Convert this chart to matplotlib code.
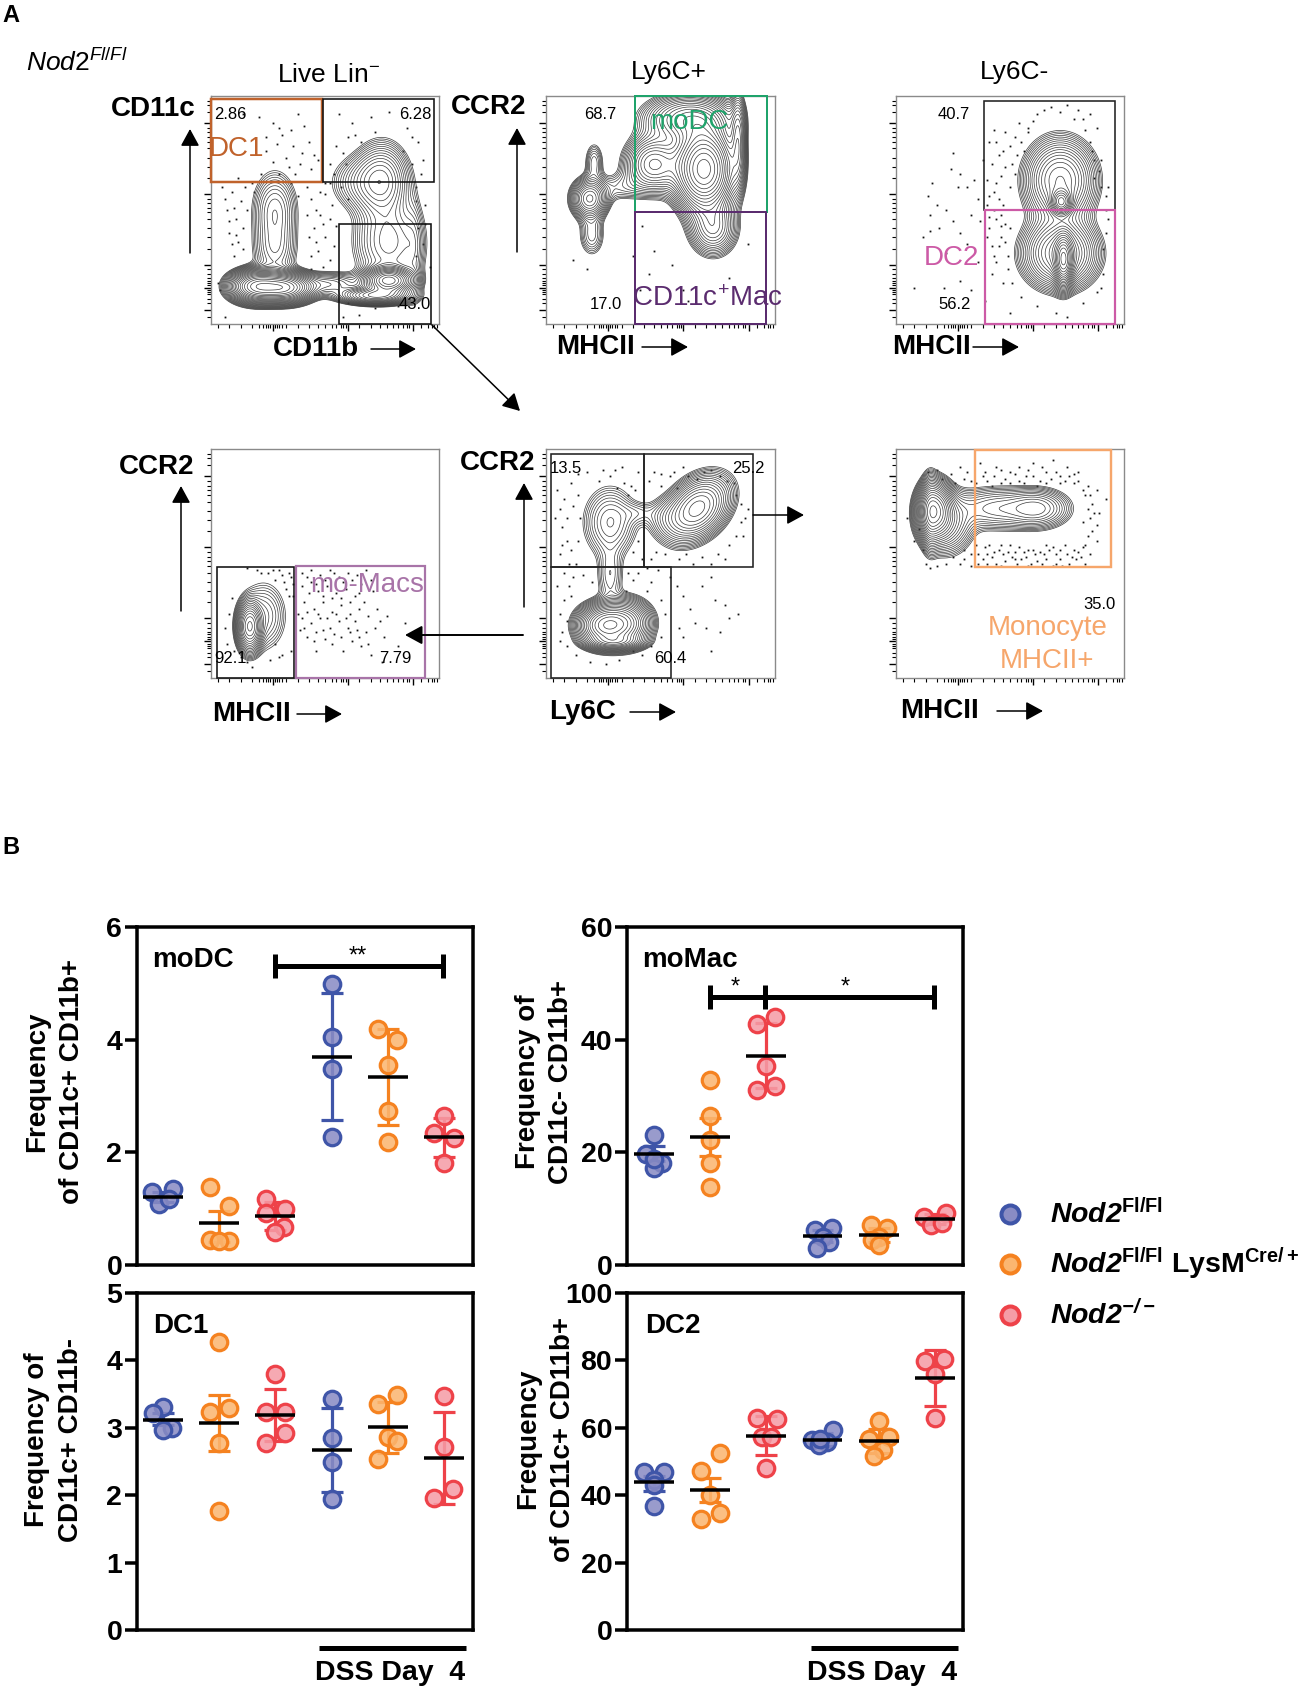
import numpy as np
import matplotlib
matplotlib.use('Agg')
import matplotlib.pyplot as plt
from matplotlib.patches import Rectangle

plt.rcParams['font.family'] = ['Liberation Sans', 'DejaVu Sans']
plt.rcParams['mathtext.fontset'] = 'custom'
plt.rcParams['mathtext.rm'] = 'Liberation Sans'
plt.rcParams['mathtext.it'] = 'Liberation Sans:italic'
plt.rcParams['mathtext.bf'] = 'Liberation Sans:bold'
plt.rcParams['mathtext.bfit'] = 'Liberation Sans:italic:bold'

W, H = 1300, 1691
PX = 0.72  # points per pixel at dpi 100

# ---------------- Panel B data ----------------
GROUP_COLORS = ['#3F55A8', '#F58220', '#EE4249', '#3F55A8', '#F58220', '#EE4249']
GROUP_FACES = ['#8A8CC4', '#FBB670', '#F59CA6', '#8A8CC4', '#FBB670', '#F59CA6']

MODC_VALUES = [[1.30, 1.345, 1.08, 1.18], [1.39, 1.04, 0.44, 0.43, 0.43], [1.17, 0.99, 0.92, 0.67, 0.58],
               [4.98, 4.05, 3.48, 2.28], [4.19, 4.00, 3.55, 2.74, 2.19], [2.64, 2.35, 2.26, 1.81]]
MODC_OFFSETS = [[-0.19, 0.18, -0.07, 0.11], [-0.17, 0.17, -0.17, 0.17, 0], [-0.17, 0.17, -0.17, 0.16, 0],
                [0, 0, 0, 0], [-0.17, 0.17, 0, 0, 0], [0, -0.17, 0.17, 0]]
MODC_MEANS = [1.21, 0.75, 0.87, 3.70, 3.34, 2.27]
MODC_UPPER = [1.30, 0.95, 1.11, 4.82, 4.19, 2.61]
MODC_LOWER = [1.12, 0.40, 0.63, 2.57, 2.49, 1.91]

MOMAC_VALUES = [[23.1, 19.7, 18.1, 17.2, 18.9], [32.9, 26.4, 22.2, 18.1, 13.9], [44.0, 42.8, 35.4, 31.7, 31.1],
                [6.2, 6.5, 5.0, 4.1, 3.1], [7.1, 6.5, 5.0, 4.4, 3.6], [8.6, 9.3, 7.1, 7.4]]
MOMAC_OFFSETS = [[0, -0.15, 0.15, 0, 0], [0, 0, 0, 0, 0], [0.16, -0.16, 0, 0.16, -0.16],
                 [-0.14, 0.17, 0, 0.11, -0.09], [-0.14, 0.15, 0, -0.12, 0], [-0.19, 0.2, -0.07, 0.13]]
MOMAC_MEANS = [19.7, 22.7, 37.1, 5.15, 5.3, 8.1]
MOMAC_UPPER = [21.1, 26.1, 42.9, 6.3, 6.5, 9.0]
MOMAC_LOWER = [18.4, 19.4, 31.4, 4.0, 4.1, 7.2]

DC1_VALUES = [[3.31, 3.22, 2.99, 2.96], [4.27, 3.30, 3.23, 2.77, 1.76], [3.80, 3.23, 3.23, 2.93, 2.77],
              [3.42, 2.85, 2.50, 1.94], [3.48, 3.36, 2.86, 2.80, 2.54], [3.47, 2.71, 2.09, 1.96]]
DC1_OFFSETS = [[0, -0.17, 0.16, 0], [0, 0.17, -0.17, 0, 0], [0, -0.17, 0.17, 0.17, -0.17],
               [0, 0, 0, 0], [0.17, -0.17, 0, 0.17, -0.17], [0, 0, 0.16, -0.17]]
DC1_MEANS = [3.12, 3.07, 3.19, 2.67, 3.01, 2.55]
DC1_UPPER = [3.22, 3.48, 3.58, 3.29, 3.39, 3.24]
DC1_LOWER = [3.04, 2.66, 2.80, 2.05, 2.62, 1.87]

DC2_VALUES = [[47.0, 47.0, 44.6, 43.0, 36.9], [52.5, 47.2, 40.1, 34.7, 33.0], [62.9, 62.6, 57.2, 57.2, 48.2],
              [59.4, 56.4, 55.7, 54.8, 56.6], [61.9, 57.4, 56.6, 53.5, 51.7], [79.9, 80.5, 75.9, 62.9]]
DC2_OFFSETS = [[-0.17, 0.17, 0, 0, 0], [0.17, -0.17, 0, 0.17, -0.17], [-0.17, 0.19, -0.08, 0.09, 0],
               [0.18, -0.18, 0.08, -0.07, -0.04], [0, 0.18, -0.18, 0.08, -0.08], [-0.17, 0.17, 0, 0]]
DC2_MEANS = [43.8, 41.6, 57.7, 56.5, 56.0, 74.9]
DC2_UPPER = [45.7, 45.2, 63.6, 58.5, 59.5, 83.2]
DC2_LOWER = [41.3, 37.9, 51.9, 54.5, 52.5, 66.5]

MODC_TICKS = [0, 2, 4, 6]
MOMAC_TICKS = [0, 20, 40, 60]
DC1_TICKS = [0, 1, 2, 3, 4, 5]
DC2_TICKS = [0, 20, 40, 60, 80, 100]

LEGEND_LABELS = [r'$\mathbfit{Nod2}^{\mathbf{Fl/Fl}}$',
                 r'$\mathbfit{Nod2}^{\mathbf{Fl/Fl}}\ \mathbf{LysM}^{\mathbf{Cre/+}}$',
                 r'$\mathbfit{Nod2}^{\mathbfit{-/-}}$']

# ---------------- Panel A data (panel units 0-100) ----------------
# density blobs: x, y, sx, sy, weight, rotation in degrees
P1_BLOBS = [(20, 16.5, 6, 3.6, 1.0, 0), (32, 16, 6.5, 3.4, 1.0, 0), (28, 50, 5.5, 9.5, .12, 0), (28, 32, 5.5, 8, .09, 0),
            (52, 17.5, 8, 3, .12, 0), (78, 19, 5.5, 3, .9, 0), (72, 12.5, 8, 2, .5, 0), (78, 36, 8.5, 11, .14, 0),
            (75, 63, 6.5, 9, .2, 0), (66, 62, 8, 7, .08, 0), (89, 30, 2.5, 15, .04, 0)]
P2_BLOBS = [(19, 55, 4.5, 5, .35, 0), (21, 71, 2.6, 5.5, .09, 0), (20, 39, 3.6, 6, .09, 0), (33, 60, 7, 4, .06, 0),
            (69, 68, 7, 10, 1.0, 0), (47, 70, 7, 7, .35, 0), (73, 42, 6, 7, .22, 0), (84, 80, 2, 12, .2, 0), (62, 90, 11, 6, .3, 0)]
P3_BLOBS = [(72.5, 53.5, 2.5, 3, .8, 0), (73.5, 28, 2.2, 6, 1.0, 0), (72, 63, 8.5, 10, .5, 0), (72, 31, 9, 8.5, .55, 0)]
P4_BLOBS = [(17, 22.5, 2.5, 5, 1.0, 0), (23, 27, 5, 7.5, .08, 0)]
P5_BLOBS = [(26, 23, 5.5, 4.3, .8, 0), (34, 24, 5.5, 4.8, .45, 0), (30, 16, 6, 1.8, .3, 0), (66, 74, 8, 5.5, .35, 45),
            (53, 70, 5, 5, .04, 0), (28, 68, 6, 8, .07, 0), (28, 45, 3.3, 8, .035, 0), (40, 72, 5, 3, .02, 0)]
P6_BLOBS = [(17, 73, 3.8, 6, 1.0, 0), (22, 68, 6, 7, .2, 0), (15, 72, 2, 8, .25, 0), (62, 74, 7.5, 4.5, .16, 0), (44, 74, 11, 5, .12, 0)]

P1_DOTS = [(14, 92), (21, 91), (27, 88), (38, 92), (31, 83), (35, 85), (41, 87), (24, 82), (29, 79), (36, 78), (43, 80), (47, 72),
           (27, 71), (33, 73), (39, 70), (44, 68), (22, 66), (12, 64), (18, 62), (9, 58), (13, 54), (7, 50), (11, 46), (8, 40), (12, 36),
           (10, 30), (14, 33), (6, 55), (4, 15), (3, 18), (42, 60), (44, 55), (50, 57), (53, 52), (57, 60), (60, 55), (48, 48),
           (45, 42), (50, 38), (54, 34), (47, 32), (52, 28), (44, 30), (56, 92), (62, 88), (70, 91), (78, 93), (86, 86), (91, 80),
           (93, 72), (55, 78), (60, 82), (66, 80), (88, 70), (90, 60), (94, 52), (93, 35), (96, 25), (60, 9), (65, 4), (72, 7), (82, 8),
           (58, 3), (6, 3), (90, 30), (91, 42), (52, 70), (35, 62), (38, 56), (16, 50), (30, 86), (24, 76), (34, 69), (40, 75), (45, 74),
           (37, 66), (30, 66), (19, 58), (15, 60), (10, 51), (14, 42), (9, 35), (11, 39), (8, 45), (5, 60), (42, 48), (46, 50), (49, 44),
           (52, 46), (55, 43), (46, 36), (43, 38), (49, 25), (44, 24), (50, 62), (48, 58), (52, 62), (54, 66), (59, 70), (58, 75), (63, 83),
           (72, 84), (84, 76), (88, 82), (92, 66), (90, 54), (94, 44)]
P2_DOTS = [(12, 28), (18, 24), (42, 43), (47, 32), (45, 22), (41, 15), (60, 15), (62, 10), (80, 20), (88, 35), (55, 26), (38, 30)]
P3_DOTS = [(25, 75), (24, 68), (27, 60), (28, 66), (31, 60), (34, 63), (36, 55), (38, 72), (41, 80), (43, 85), (48, 84), (50, 78), (45, 74),
           (42, 70), (48, 69), (53, 74), (55, 80), (60, 89), (68, 95), (75, 96), (80, 94), (85, 92), (88, 86), (85, 80), (87, 72),
           (89, 67), (90, 60), (92, 56), (44, 62), (50, 60), (41, 56), (45, 55), (47, 52), (16, 62), (14, 56), (18, 52), (15, 48),
           (22, 50), (25, 45), (19, 42), (28, 40), (33, 48), (37, 45), (41, 42), (44, 46), (48, 44), (42, 34), (46, 38), (49, 30), (44, 27),
           (49, 24), (51, 18), (47, 18), (42, 22), (55, 12), (62, 8), (70, 5), (75, 3), (82, 9), (88, 14), (91, 22), (91, 33),
           (92, 40), (90, 16), (8, 16), (21, 16), (28, 19), (33, 15), (22, 31), (31, 35), (36, 27), (39, 10), (50, 5), (12, 38), (15, 41),
           (65, 94), (58, 84), (54, 88), (78, 90), (83, 85), (44, 80), (47, 76), (51, 70), (46, 65), (40, 63), (43, 58), (40, 52), (43, 50),
           (46, 48), (41, 47), (40, 38), (43, 30), (45, 34), (48, 36), (50, 42), (46, 43), (58, 86), (62, 92), (72, 93), (82, 90), (86, 76),
           (90, 72), (87, 64), (93, 60), (92, 50), (93, 46), (52, 82), (56, 76), (52, 66)]
P4_DOTS = [(16, 48), (20, 47), (25, 46), (30, 47), (34, 46), (28, 43), (32, 42), (35, 44), (33, 39), (36, 36), (9, 35), (8, 28), (6, 22),
           (7, 15), (10, 12), (35, 12), (31, 10), (26, 8), (18, 5), (16, 7), (28, 15), (40, 46), (44, 47), (48, 45), (52, 47), (56, 44),
           (60, 46), (64, 45), (68, 47), (40, 40), (44, 42), (47, 38), (51, 40), (55, 37), (59, 39), (63, 36), (67, 33), (71, 38), (41, 33),
           (45, 30), (49, 33), (53, 29), (57, 32), (61, 28), (65, 30), (69, 27), (73, 30), (77, 27), (40, 26), (44, 24), (48, 26), (52, 22), (56, 25),
           (60, 22), (64, 21), (68, 20), (72, 22), (42, 18), (46, 20), (50, 17), (54, 19), (62, 16), (66, 14), (76, 18), (70, 10), (58, 12), (82, 14),
           (46, 12), (75, 7), (85, 24), (39, 21), (38, 28), (42, 44), (46, 41), (50, 43), (54, 46), (58, 42), (62, 43), (66, 41), (70, 43), (43, 37),
           (49, 36), (53, 35), (57, 35), (61, 33), (65, 37), (42, 29), (47, 28), (51, 26), (55, 28), (59, 26), (63, 25), (41, 22), (45, 16), (49, 21),
           (53, 15), (57, 18), (61, 20), (65, 18), (69, 15), (74, 25), (31, 45), (27, 47), (22, 46), (36, 41), (34, 36), (30, 9), (13, 9)]
P5_DOTS = [(5, 82), (8, 78), (11, 85), (14, 89), (18, 90), (23, 86), (28, 88), (33, 92), (37, 84), (40, 90), (31, 83), (36, 80), (4, 70),
           (7, 66), (9, 60), (11, 56), (6, 54), (13, 50), (47, 90), (54, 88), (60, 92), (66, 87), (72, 91), (79, 86), (83, 80), (88, 74), (85, 68),
           (80, 58), (78, 52), (72, 50), (64, 50), (58, 52), (48, 55), (86, 62), (50, 84), (57, 83), (12, 44), (10, 40), (8, 34), (6, 28), (7, 20),
           (9, 14), (13, 10), (19, 7), (26, 6), (32, 8), (38, 12), (42, 10), (46, 14), (50, 18), (52, 28), (50, 34), (46, 42), (44, 38),
           (54, 44), (57, 40), (60, 36), (63, 30), (65, 24), (68, 40), (72, 44), (74, 34), (78, 32), (80, 26), (70, 22), (58, 22), (76, 20),
           (84, 28), (60, 18), (72, 12), (16, 45), (20, 42), (38, 43), (36, 46), (35, 38), (14, 60), (15, 70), (40, 60), (38, 55), (42, 52),
           (6, 74), (9, 70), (12, 75), (14, 80), (7, 58), (10, 50), (8, 46), (5, 40), (11, 36), (9, 25), (6, 16), (34, 85), (39, 82), (25, 91),
           (30, 91), (45, 86), (50, 89), (56, 90), (62, 88), (69, 90), (76, 88), (82, 85), (85, 76), (87, 70), (83, 62), (75, 54), (68, 53), (61, 54),
           (52, 54), (46, 52), (49, 47), (44, 48), (40, 46)]
P6_DOTS = [(14, 90), (18, 91), (24, 89), (28, 92), (33, 86), (37, 94), (39, 90), (43, 88), (46, 91), (50, 85), (54, 92), (57, 88), (60, 94),
           (63, 86), (66, 90), (69, 95), (72, 88), (75, 92), (78, 85), (80, 90), (83, 80), (86, 76), (89, 72), (92, 78), (85, 70), (82, 68),
           (84, 62), (88, 60), (82, 57), (85, 54), (79, 52), (83, 50), (76, 50), (72, 52), (69, 49), (65, 54), (62, 51), (58, 56), (55, 52),
           (52, 55), (48, 51), (45, 56), (42, 53), (39, 57), (36, 50), (33, 54), (30, 56), (28, 50), (25, 53), (22, 50), (13, 50), (12, 56),
           (8, 60), (5, 70), (10, 65), (35, 58), (38, 52), (41, 58), (44, 50), (47, 54), (50, 58), (53, 50), (56, 55), (59, 50), (61, 54),
           (64, 50), (67, 56), (70, 54), (73, 49), (75, 54), (78, 56), (81, 53), (35, 85), (40, 86), (44, 92), (48, 87), (52, 89), (56, 85),
           (60, 88), (64, 92), (68, 87), (72, 85), (76, 88), (80, 86), (84, 84), (30, 87), (26, 85), (20, 87), (88, 82), (84, 74), (15, 48), (18, 49),
           (30, 52), (33, 49), (40, 50), (46, 49), (52, 52), (58, 49), (66, 52), (70, 50), (36, 54), (40, 54), (43, 55), (46, 58), (49, 55), (51, 53),
           (54, 57), (57, 53), (60, 56), (63, 55), (66, 58), (69, 57), (72, 56), (74, 58), (77, 53), (80, 55), (83, 58), (86, 64), (88, 67), (38, 88),
           (42, 84), (46, 85), (50, 90), (54, 86), (58, 91), (62, 84), (66, 85), (70, 90), (74, 86), (78, 89), (82, 82), (85, 80), (87, 72), (31, 90)]

# gates: x0, y0, x1, y1, color, line width in pixels
P1_GATES = [(0, 62.2, 48.7, 98.8, '#C0622B', 2.5), (49, 62.5, 97.6, 98.8, '#111111', 1.6), (56, 0, 96.4, 44, '#111111', 1.6)]
P2_GATES = [(39, 49.3, 96.5, 100, '#1FA36B', 2), (39, 0, 96, 49.3, '#5B2C6F', 2)]
P3_GATES = [(38.7, 50, 96, 97.7, '#222222', 1.6), (39, 0, 96, 50, '#CC5AA6', 2.2)]
P4_GATES = [(2.5, 0, 36.4, 48.3, '#111111', 1.6), (37.4, 0, 94, 48.8, '#A874A8', 2.2)]
P5_GATES = [(2, 48.3, 43, 97.8, '#222222', 1.6), (43, 48.3, 90.5, 97.8, '#222222', 1.6), (2, 0, 54.7, 48.3, '#222222', 1.6)]
P6_GATES = [(34.6, 48.5, 94.3, 99.4, '#F6A66B', 2.4)]

# annotation text: x, y, text, color, size
P1_TEXT = [(8.5, 92, '2.86', 'black', 12), (89.5, 92, '6.28', 'black', 12), (11, 76.6, 'DC1', '#C0622B', 20), (89.5, 8.5, '43.0', 'black', 12)]
P2_TEXT = [(23.5, 92, '68.7', 'black', 12), (26, 8.5, '17.0', 'black', 12), (62.5, 88.7, 'moDC', '#1FA36B', 20),
           (70.5, 10.8, r'CD11c$^{+}$Mac', '#5B2C6F', 20)]
P3_TEXT = [(25.3, 92, '40.7', 'black', 12), (25.7, 8.6, '56.2', 'black', 12), (24.5, 28.8, 'DC2', '#CC5AA6', 20)]
P4_TEXT = [(8.5, 8.7, '92.1', 'black', 12), (81, 8.7, '7.79', 'black', 12), (68.7, 40.8, 'mo-Macs', '#A874A8', 20)]
P5_TEXT = [(8.5, 91.7, '13.5', 'black', 12), (88.5, 91.7, '25.2', 'black', 12), (54.3, 8.7, '60.4', 'black', 12)]
P6_TEXT = [(89.2, 32, '35.0', 'black', 12), (66.4, 21.9, 'Monocyte', '#F6A66B', 20), (66.4, 7.3, 'MHCII+', '#F6A66B', 20)]

FLOW_X_MAJOR = [27, 60, 88.5]
FLOW_X_MINOR = [3, 8, 13, 18, 21, 23, 24, 25, 26, 28, 29, 30, 31, 33, 38, 43, 47, 50, 53, 55, 57, 58, 59,
                65, 70, 74, 77, 80, 82, 84, 86, 87, 92, 95, 97, 98, 99]
FLOW_Y_MAJOR = [6, 16, 26, 57, 88]
FLOW_Y_MINOR = [3, 9, 11, 13, 14, 15, 17, 18, 19, 20, 22, 24, 33, 38, 42, 46, 49, 51, 53, 55,
                64, 69, 73, 77, 80, 82, 84, 86, 93, 96, 98]

fig = plt.figure(figsize=(W / 100, H / 100), dpi=100)


def ax_px(left, top, right, bottom):
    return fig.add_axes([left / W, 1 - bottom / H, (right - left) / W, (bottom - top) / H])


def flow_panel(box, blobs, dots, gates, texts, lo, nlev, lw=0.5):
    ax = ax_px(*box)
    ax.set_xlim(0, 100)
    ax.set_ylim(0, 100)
    for s in ax.spines.values():
        s.set_color('#8a8a8a')
        s.set_linewidth(1)
    ax.set_xticks(FLOW_X_MAJOR)
    ax.set_xticks(FLOW_X_MINOR, minor=True)
    ax.set_yticks(FLOW_Y_MAJOR)
    ax.set_yticks(FLOW_Y_MINOR, minor=True)
    ax.set_xticklabels([])
    ax.set_yticklabels([])
    ax.tick_params(which='major', length=5, width=1, color='black')
    ax.tick_params(which='minor', length=3, width=0.8, color='black')
    xs = np.linspace(0, 100, 400)
    X, Y = np.meshgrid(xs, xs)
    Z = np.zeros_like(X)
    for (cx, cy, sx, sy, w, rot) in blobs:
        t = np.deg2rad(rot)
        u = (X - cx) * np.cos(t) + (Y - cy) * np.sin(t)
        v = -(X - cx) * np.sin(t) + (Y - cy) * np.cos(t)
        Z += w * np.exp(-0.5 * (u / sx) ** 2 - 0.5 * (v / sy) ** 2)
    ax.plot([d[0] for d in dots], [d[1] for d in dots], ls='', marker='s', ms=1.3, mew=0, color='#111111', zorder=2)
    ax.contour(X, Y, Z, levels=np.geomspace(lo * Z.max(), 0.92 * Z.max(), nlev), colors='#3a3a3a', linewidths=lw, zorder=3)
    for (x0, y0, x1, y1, c, lwg) in gates:
        ax.add_patch(Rectangle((x0, y0), x1 - x0, y1 - y0, fill=False, ec=c, lw=lwg * PX, zorder=4, clip_on=False))
    for (x, y, t, c, fs) in texts:
        ax.text(x, y, t, color=c, fontsize=fs, ha='center', va='center', zorder=5, clip_on=False)
    return ax


flow_panel((211, 96, 439, 324), P1_BLOBS, P1_DOTS, P1_GATES, P1_TEXT, 0.018, 24)
flow_panel((546, 96, 775, 324), P2_BLOBS, P2_DOTS, P2_GATES, P2_TEXT, 0.035, 24)
flow_panel((896, 96, 1124, 324), P3_BLOBS, P3_DOTS, P3_GATES, P3_TEXT, 0.03, 24)
flow_panel((211, 449, 439, 678), P4_BLOBS, P4_DOTS, P4_GATES, P4_TEXT, 0.012, 18)
flow_panel((546, 449, 775, 678), P5_BLOBS, P5_DOTS, P5_GATES, P5_TEXT, 0.01, 22)
flow_panel((896, 449, 1124, 678), P6_BLOBS, P6_DOTS, P6_GATES, P6_TEXT, 0.014, 22)


def scatter_panel(box, values, offsets, means, upper, lower, yticks, ymax, xlim):
    ax = ax_px(*box)
    ax.set_xlim(*xlim)
    ax.set_ylim(0, ymax)
    ax.patch.set_alpha(0)
    for s in ax.spines.values():
        s.set_linewidth(3.5 * PX)
        s.set_color('black')
    ax.set_xticks([])
    ax.set_yticks(yticks)
    ax.tick_params(axis='y', length=12 * PX, width=3.5 * PX, pad=2, labelsize=20.5)
    for lab in ax.get_yticklabels():
        lab.set_fontweight('bold')
    for i in range(6):
        c = GROUP_COLORS[i]
        ax.plot([i, i], [lower[i], upper[i]], color=c, lw=3.2 * PX, zorder=2, solid_capstyle='butt')
        for yy in (lower[i], upper[i]):
            ax.plot([i - 0.195, i + 0.195], [yy, yy], color=c, lw=3.2 * PX, zorder=2, solid_capstyle='butt')
        ax.plot([i + o for o in offsets[i]], values[i], ls='', marker='o', ms=16.5 * PX, mew=3.2 * PX, mec=c,
                mfc=GROUP_FACES[i] + 'DD', zorder=3, clip_on=False)
        ax.plot([i - 0.355, i + 0.355], [means[i], means[i]], color='black', lw=3.5 * PX, zorder=4, solid_capstyle='butt')
    return ax


LEFT_XLIM = (-0.463, 5.516)
RIGHT_XLIM = (-0.48, 5.5)
a1 = scatter_panel((137, 927, 473, 1265), MODC_VALUES, MODC_OFFSETS, MODC_MEANS, MODC_UPPER, MODC_LOWER, MODC_TICKS, 6, LEFT_XLIM)
a2 = scatter_panel((627, 927, 963, 1265), MOMAC_VALUES, MOMAC_OFFSETS, MOMAC_MEANS, MOMAC_UPPER, MOMAC_LOWER, MOMAC_TICKS, 60, RIGHT_XLIM)
a3 = scatter_panel((137, 1293, 473, 1630), DC1_VALUES, DC1_OFFSETS, DC1_MEANS, DC1_UPPER, DC1_LOWER, DC1_TICKS, 5, LEFT_XLIM)
a4 = scatter_panel((627, 1293, 963, 1630), DC2_VALUES, DC2_OFFSETS, DC2_MEANS, DC2_UPPER, DC2_LOWER, DC2_TICKS, 100, RIGHT_XLIM)


def bracket(ax, xs, y, cap):
    ax.plot([xs[0], xs[-1]], [y, y], color='black', lw=5 * PX, zorder=5, solid_capstyle='butt')
    for x in xs:
        ax.plot([x, x], [y - cap, y + cap], color='black', lw=5 * PX, zorder=5, solid_capstyle='butt')


bracket(a1, [1.99, 4.98], 5.31, 0.21)
a1.text(3.47, 5.47, '**', ha='center', va='center', fontsize=17)
bracket(a2, [1, 1.98, 4.98], 47.6, 2.1)
a2.text(1.45, 49.3, '*', ha='center', va='center', fontsize=17)
a2.text(3.4, 49.3, '*', ha='center', va='center', fontsize=17)

# overlay in reference pixels
ov = fig.add_axes([0, 0, 1, 1], zorder=20)
ov.set_xlim(0, W)
ov.set_ylim(H, 0)
ov.axis('off')


def T(x, y, s, fs=19, bold=True, **kw):
    kw.setdefault('ha', 'center')
    kw.setdefault('va', 'center')
    ov.text(x, y, s, fontsize=fs, fontweight='bold' if bold else 'normal', **kw)


def arrow(x0, y0, x1, y1, lw=1.1, ms=19):
    ov.annotate('', xy=(x1, y1), xytext=(x0, y0),
                arrowprops=dict(arrowstyle='-|>,head_length=0.55,head_width=0.3', lw=lw, color='black',
                                shrinkA=0, shrinkB=0, mutation_scale=ms))


T(11, 15, 'A', 17)
T(11, 847, 'B', 17)
T(26, 62, r'$\mathit{Nod2}^{\mathit{Fl/Fl}}$', 19, bold=False, ha='left')
T(329, 75, r'Live Lin$^{-}$', 19, bold=False)
T(669, 72, 'Ly6C+', 19, bold=False)
T(1014, 72, 'Ly6C-', 19, bold=False)
T(153, 109, 'CD11c', 20)
T(489, 107, 'CCR2', 20)
T(316, 349, 'CD11b', 20)
T(595, 347, 'MHCII', 20)
T(932, 347, 'MHCII', 20)
T(157, 467, 'CCR2', 20)
T(252, 714, 'MHCII', 20)
T(498, 463, 'CCR2', 20)
T(583, 712, 'Ly6C', 20)
T(940, 711, 'MHCII', 20)

arrow(190, 253, 190, 129)
arrow(517, 252, 517, 128)
arrow(181, 611, 181, 486)
arrow(524, 607, 524, 483)
arrow(371, 349, 416, 349)
arrow(642, 347, 688, 347)
arrow(973, 347, 1019, 347)
arrow(297, 714, 342, 714)
arrow(630, 712, 676, 712)
arrow(997, 711, 1043, 711)
arrow(432, 325, 520, 411)
arrow(523, 635, 405, 635, lw=1.4)
arrow(753, 515, 804, 515)

T(37, 1082, 'Frequency', 20, rotation=90)
T(72, 1082, 'of CD11c+ CD11b+', 20, rotation=90)
T(528, 1082, 'Frequency of', 20, rotation=90)
T(561, 1082, 'CD11c- CD11b+', 20, rotation=90)
T(37, 1440, 'Frequency of', 20, rotation=90)
T(71, 1440, 'CD11c+ CD11b-', 20, rotation=90)
T(528, 1439, 'Frequency', 20, rotation=90)
T(563, 1439, 'of CD11c+ CD11b+', 20, rotation=90)

T(152, 960, 'moDC', 20, ha='left')
T(642, 960, 'moMac', 20, ha='left')
T(153, 1326, 'DC1', 20, ha='left')
T(645, 1326, 'DC2', 20, ha='left')

for (x0, x1, tx) in [(319, 466, 390), (811, 958, 882)]:
    ov.plot([x0, x1], [1648, 1648], color='black', lw=5 * PX, solid_capstyle='butt')
    T(tx, 1673, 'DSS Day  4', 20.5)

for (yy, lab, i) in zip([1214, 1264, 1315], LEGEND_LABELS, [0, 1, 2]):
    ov.plot([1010], [yy], ls='', marker='o', ms=18 * PX, mew=4 * PX, mec=GROUP_COLORS[i], mfc=GROUP_FACES[i])
    T(1050, yy, lab, 20.5, ha='left')

fig.savefig('out.png', dpi=100)
